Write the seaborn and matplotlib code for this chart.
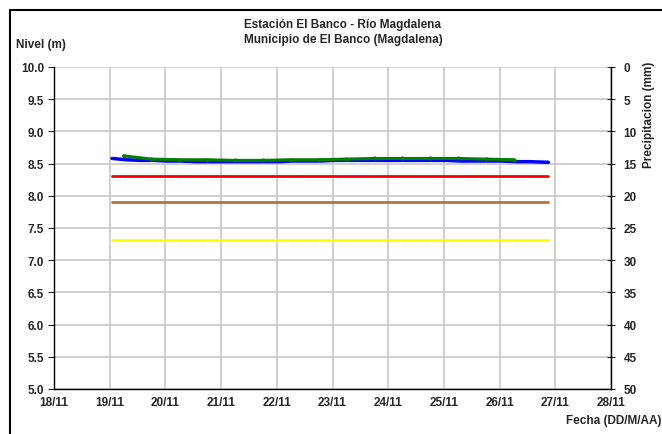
import pandas as pd
import seaborn as sns
import matplotlib.pyplot as plt
import matplotlib.dates as mdates
from matplotlib.patches import Rectangle

# Nivel observado (cada 6 horas)
nivel_inicio = "2023-11-19 01:00"
nivel_valores = [8.58, 8.56, 8.55, 8.55,
                 8.54, 8.54, 8.53, 8.53,
                 8.53, 8.53, 8.53, 8.53,
                 8.53, 8.54, 8.54, 8.54,
                 8.55, 8.55, 8.55, 8.55,
                 8.55, 8.55, 8.55, 8.55,
                 8.55, 8.54, 8.54, 8.54,
                 8.54, 8.53, 8.53, 8.52]

# Nivel convencional (cada 12 horas)
conv_inicio = "2023-11-19 06:00"
conv_valores = [8.62, 8.57, 8.56, 8.56, 8.55, 8.55, 8.56, 8.56,
                8.57, 8.58, 8.58, 8.58, 8.58, 8.57, 8.56]

# Umbrales
umbral_inicio = "2023-11-19 01:00"
umbral_fin = "2023-11-26 21:00"
umbral_valores = [8.30, 7.90, 7.32]
umbral_colores = ["#ff0000", "#b5763a", "#ffff00"]

x_ticks = pd.date_range("2023-11-18", "2023-11-28", freq="D")

sns.set_style("white")
plt.rcParams["font.family"] = ["Liberation Sans", "DejaVu Sans"]
plt.rcParams["font.weight"] = "bold"

df_nivel = pd.DataFrame({
    "fecha": pd.date_range(nivel_inicio, periods=len(nivel_valores), freq="6h"),
    "nivel": nivel_valores,
})
df_nivel.loc[len(df_nivel) - 1, "fecha"] = pd.Timestamp(umbral_fin)
df_conv = pd.DataFrame({
    "fecha": pd.date_range(conv_inicio, periods=len(conv_valores), freq="12h"),
    "nivel": conv_valores,
})

fig = plt.figure(figsize=(6.62, 4.35), dpi=100)
ax = fig.add_axes([54 / 662, 45 / 435, 557 / 662, 322 / 435])

# marco exterior
fig.patches.append(Rectangle((10 / 662, -0.1), 1.2, 1.1 - 11 / 435,
                             transform=fig.transFigure, fill=False,
                             edgecolor="black", linewidth=1.5, zorder=0))

for v, c in zip(umbral_valores, umbral_colores):
    ax.plot([pd.Timestamp(umbral_inicio), pd.Timestamp(umbral_fin)], [v, v],
            color=c, linewidth=2)

sns.lineplot(data=df_nivel, x="fecha", y="nivel", ax=ax, color="#0000ff",
             linewidth=2.5)
sns.lineplot(data=df_conv, x="fecha", y="nivel", ax=ax, color="#008000",
             linewidth=2.2, marker="o", markersize=3, markeredgewidth=0)

ax.set_xlim(x_ticks[0], x_ticks[-1])
ax.set_ylim(5.0, 10.0)
ax.set_xticks(x_ticks)
ax.xaxis.set_major_formatter(mdates.DateFormatter("%d/%m"))
ax.set_yticks([5.0 + 0.5 * i for i in range(11)])
ax.yaxis.set_major_formatter(plt.FormatStrFormatter("%.1f"))
ax.grid(True, color="#c8c8c8", linewidth=1.2)
ax.set_axisbelow(True)
ax.set_xlabel("")
ax.set_ylabel("")
for s in ["top", "right"]:
    ax.spines[s].set_visible(False)
for s in ["left", "bottom"]:
    ax.spines[s].set_color("black")
    ax.spines[s].set_linewidth(1)
ax.tick_params(axis="y", direction="out", length=4, labelsize=8.5, pad=3)
ax.tick_params(axis="x", direction="inout", length=6, labelsize=8.5, pad=2)

ax2 = ax.twinx()
ax2.set_ylim(50, 0)
ax2.set_yticks(range(0, 55, 5))
ax2.tick_params(axis="y", direction="inout", length=6, labelsize=8.5, pad=6)
for s in ["top", "left", "bottom"]:
    ax2.spines[s].set_visible(False)
ax2.spines["right"].set_color("black")
ax2.spines["right"].set_linewidth(1)
ax2.set_ylabel("")

fig.text(343 / 662, 1 - 25 / 435, "Estación El Banco - Río Magdalena",
         ha="center", va="center", fontsize=8.5, fontweight="bold")
fig.text(343 / 662, 1 - 40 / 435, "Municipio de El Banco (Magdalena)",
         ha="center", va="center", fontsize=8.5, fontweight="bold")
fig.text(16 / 662, 1 - 45 / 435, "Nivel (m)", ha="left", va="center",
         fontsize=8.5, fontweight="bold")
fig.text(649 / 662, 1 - 115 / 435, "Precipitacion (mm)", ha="center",
         va="center", rotation=90, fontsize=8.5, fontweight="bold")
fig.text(566 / 662, 1 - 421 / 435, "Fecha (DD/M/AA)", ha="left",
         va="center", fontsize=8.5, fontweight="bold")

fig.savefig("out.png", dpi=100)
